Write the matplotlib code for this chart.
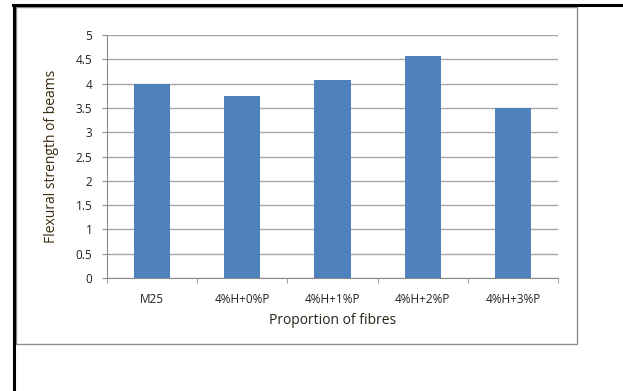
import matplotlib.pyplot as plt
from matplotlib.patches import Rectangle
from matplotlib.lines import Line2D
import numpy as np

# data
categories = ['M25', '4%H+0%P', '4%H+1%P', '4%H+2%P', '4%H+3%P']
strength = [4.0, 3.75, 4.08, 4.57, 3.5]
yticks = [0, 0.5, 1, 1.5, 2, 2.5, 3, 3.5, 4, 4.5, 5]

W, H = 623, 391
fig = plt.figure(figsize=(W / 100, H / 100), dpi=100)
plt.rcParams['font.family'] = ['Open Sans', 'DejaVu Sans']

# page borders (black) and chart frame (gray)
fig.add_artist(Line2D([13 / W, 1], [1 - 5 / H, 1 - 5 / H], color='black', lw=2.2))
fig.add_artist(Line2D([14 / W, 14 / W], [0, 1 - 5 / H], color='black', lw=2.2))
fig.add_artist(Rectangle((16 / W, 1 - 344 / H), (577 - 16) / W, (344 - 7) / H,
                         fill=False, ec='#8c8c8c', lw=1.0))

left, right, top, bottom = 107, 558, 35, 278
ax = fig.add_axes([left / W, 1 - bottom / H, (right - left) / W, (bottom - top) / H])

x = np.arange(len(categories))
ax.bar(x, strength, width=0.4, color='#4F81BD', zorder=3)

ax.set_xlim(-0.5, len(categories) - 0.5)
ax.set_ylim(0, 5)
ax.set_yticks(yticks)
ax.set_yticklabels([f'{v:g}' for v in yticks], fontsize=8.5, color='#222222')
ax.yaxis.grid(True, color='#a6a6a6', lw=1.0, zorder=0)

ax.set_xticks(x)
ax.set_xticklabels(categories, fontsize=8.5, color='#222222')
ax.set_xticks(np.arange(-0.5, len(categories)), minor=True)
ax.tick_params(axis='x', which='major', length=0, pad=11)
ax.tick_params(axis='x', which='minor', length=3.5, color='#8c8c8c', direction='out')
ax.tick_params(axis='y', length=3.5, color='#8c8c8c', direction='out', pad=7)

for side in ['top', 'right']:
    ax.spines[side].set_visible(False)
ax.spines['left'].set_color('#8c8c8c')
ax.spines['bottom'].set_color('#8c8c8c')

ax.set_xlabel('Proportion of fibres', fontsize=10, color='#2a2418', labelpad=5)
ax.set_ylabel('Flexural strength of beams', fontsize=10, color='#3a2a10', labelpad=12)

fig.savefig('out.png', dpi=100)
